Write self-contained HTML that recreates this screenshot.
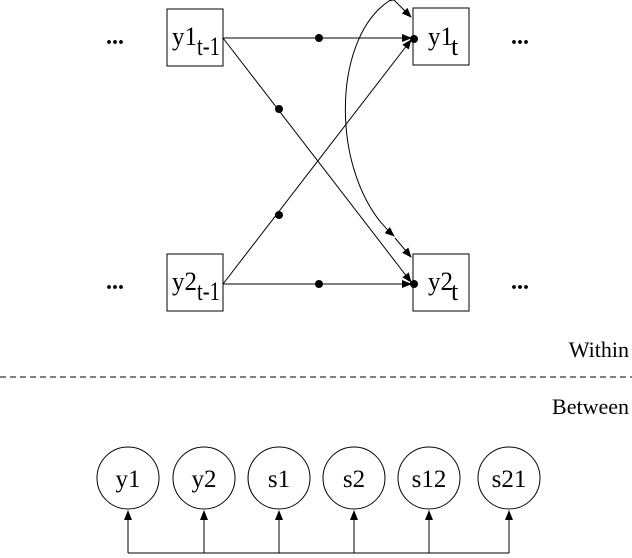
<!DOCTYPE html>
<html><head><style>body{margin:0;background:#fff}svg{display:block}text{font-family:"Liberation Serif",serif;fill:#000}</style></head><body>
<svg width="632" height="558" viewBox="0 0 632 558" xmlns="http://www.w3.org/2000/svg">
<defs><marker id="a" markerWidth="10" markerHeight="8" refX="9" refY="4" orient="auto" markerUnits="userSpaceOnUse"><path d="M0,0 L10,4 L0,8 Z" fill="#000"/></marker></defs>
<g stroke="#000" fill="none" stroke-width="1">
<rect x="167" y="9" width="56" height="57"/>
<rect x="413" y="8" width="56" height="57"/>
<rect x="167" y="254" width="56" height="57"/>
<rect x="413" y="254" width="56" height="57"/>
<line x1="223" y1="38" x2="411" y2="38" marker-end="url(#a)"/>
<line x1="223" y1="38" x2="411" y2="282" marker-end="url(#a)"/>
<line x1="223" y1="284" x2="411" y2="40" marker-end="url(#a)"/>
<line x1="223" y1="284" x2="411" y2="284" marker-end="url(#a)"/>
<path d="M389,1 C330,40 330,180 394,236" marker-start="url(#a)" marker-end="url(#a)"/>
<line x1="394" y1="0" x2="411" y2="17" marker-end="url(#a)"/>
<line x1="395" y1="238" x2="411" y2="257" marker-end="url(#a)"/>
<line x1="0" y1="377" x2="632" y2="377" stroke-dasharray="6,4"/>
<circle cx="128" cy="478" r="31"/><circle cx="204" cy="478" r="31"/><circle cx="279" cy="478" r="31"/><circle cx="354" cy="478" r="31"/><circle cx="429" cy="478" r="31"/><circle cx="509" cy="478" r="31"/>
<polyline points="128,553 509,553"/>
<line x1="128" y1="553" x2="128" y2="511" marker-end="url(#a)"/>
<line x1="204" y1="553" x2="204" y2="511" marker-end="url(#a)"/>
<line x1="279" y1="553" x2="279" y2="511" marker-end="url(#a)"/>
<line x1="354" y1="553" x2="354" y2="511" marker-end="url(#a)"/>
<line x1="429" y1="553" x2="429" y2="511" marker-end="url(#a)"/>
<line x1="509" y1="553" x2="509" y2="511" marker-end="url(#a)"/>
</g>
<g fill="#000">
<circle cx="319" cy="38" r="4"/><circle cx="414" cy="39" r="4"/><circle cx="279" cy="109" r="4"/><circle cx="279" cy="215" r="4"/><circle cx="319" cy="284" r="4"/><circle cx="414" cy="284" r="4"/>
</g>
<g font-size="26">
<text x="172" y="45" textLength="25" lengthAdjust="spacingAndGlyphs">y1</text>
<text x="197" y="55" textLength="23" lengthAdjust="spacingAndGlyphs">t-1</text>
<text x="428" y="45" textLength="25" lengthAdjust="spacingAndGlyphs">y1</text>
<text x="451" y="55">t</text>
<text x="172" y="290" textLength="25" lengthAdjust="spacingAndGlyphs">y2</text>
<text x="197" y="300" textLength="23" lengthAdjust="spacingAndGlyphs">t-1</text>
<text x="428" y="290" textLength="25" lengthAdjust="spacingAndGlyphs">y2</text>
<text x="451" y="300">t</text>
<text x="106" y="44" font-weight="bold" font-size="24">...</text><text x="511" y="44" font-weight="bold" font-size="24">...</text>
<text x="106" y="289" font-weight="bold" font-size="24">...</text><text x="511" y="289" font-weight="bold" font-size="24">...</text>
</g>
<g font-size="25">
<text x="128" y="487" text-anchor="middle">y1</text>
<text x="204" y="487" text-anchor="middle">y2</text>
<text x="279" y="487" text-anchor="middle">s1</text>
<text x="354" y="487" text-anchor="middle">s2</text>
<text x="429" y="487" text-anchor="middle">s12</text>
<text x="509" y="487" text-anchor="middle">s21</text>
<text x="629" y="357" text-anchor="end" font-size="22">Within</text>
<text x="629" y="414" text-anchor="end" font-size="22">Between</text>
</g>
</svg>
</body></html>
